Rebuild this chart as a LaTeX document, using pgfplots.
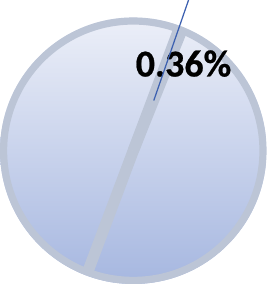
\documentclass[border=0pt]{standalone}
\usepackage{pgfplots}
\pgfplotsset{compat=1.18}
\usepackage{fontspec}
\setmainfont{Carlito}
\definecolor{ptop}{RGB}{236,239,248}
\definecolor{pbot}{RGB}{166,183,224}
\definecolor{ring}{RGB}{188,197,214}
\definecolor{lead}{RGB}{60,96,176}
\begin{document}
\begin{tikzpicture}
\begin{axis}[x=1pt,y=1pt,xmin=0,xmax=268,ymin=0,ymax=284,hide axis,anchor=south west,at={(0,0)}]
\def\cx{137}\def\cy{137}\def\R{130}
\def\start{69.4}
% slice values in percent
\def\va{0.36}\def\vb{49.64}\def\vc{50.00}
\pgfmathsetmacro\aa{\start-3.6*\va}
\pgfmathsetmacro\ab{\aa-3.6*\vb}
\shade[top color=ptop,bottom color=pbot] (axis cs:\cx,\cy) circle[radius=\R pt];
\draw[ring,line width=7pt] (axis cs:\cx,\cy) circle[radius=\R pt - 3.5pt];
\draw[ring,line width=11pt] (axis cs:\cx,\cy) -- ++(\start:\R pt-3pt);
\draw[ring,line width=11pt] (axis cs:\cx,\cy) -- ++(\aa:\R pt-3pt);
\draw[ring,line width=11pt] (axis cs:\cx,\cy) -- ++(\ab:\R pt-3pt);
\node[font=\fontsize{37}{40}\bfseries\selectfont\addfontfeature{FakeBold=0.6}] at (axis cs:186,222) {0.36\%};
\addplot[lead,line width=1.2pt] coordinates {(193,290) (157,186)};
\end{axis}
\end{tikzpicture}
\end{document}
